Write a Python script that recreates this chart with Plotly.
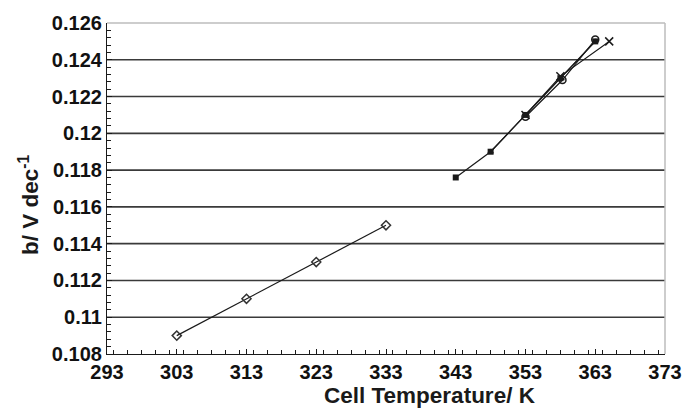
import plotly.graph_objects as go

# ---- data ----
low_T = [303, 313, 323, 333]
low_b = [0.109, 0.111, 0.113, 0.115]

sq_T = [343, 348, 353, 358, 363]
sq_b = [0.1176, 0.119, 0.121, 0.123, 0.125]

tri_T = [348, 353, 358, 363]
tri_b = [0.119, 0.121, 0.123, 0.125]

x_T = [353, 358, 365]
x_b = [0.121, 0.1231, 0.125]

circ_T = [353, 358.3, 363]
circ_b = [0.1209, 0.1229, 0.1251]

x_ticks = [293, 303, 313, 323, 333, 343, 353, 363, 373]
x_ticktext = ["293", "303", "313", "323", "333", "343", "353", "363", "373"]
y_ticks = [0.108, 0.110, 0.112, 0.114, 0.116, 0.118, 0.120, 0.122, 0.124, 0.126]
y_ticktext = ["0.108", "0.11", "0.112", "0.114", "0.116", "0.118", "0.12", "0.122", "0.124", "0.126"]

x_title = "Cell Temperature/ K"
y_title = "b/ V dec<sup>-1</sup>"

LINE = "#1a1a1a"

fig = go.Figure()

fig.add_trace(go.Scatter(x=low_T, y=low_b, mode="lines+markers",
                         line=dict(color=LINE, width=1.2),
                         marker=dict(symbol="diamond-open", size=7, color="#333333",
                                     line=dict(width=1.5))))
fig.add_trace(go.Scatter(x=tri_T, y=tri_b, mode="lines+markers",
                         line=dict(color=LINE, width=1.2),
                         marker=dict(symbol="triangle-up", size=6, color=LINE)))
fig.add_trace(go.Scatter(x=x_T, y=x_b, mode="lines+markers",
                         line=dict(color=LINE, width=1.2),
                         marker=dict(symbol="x-thin-open", size=8, color=LINE,
                                     line=dict(width=1.5, color=LINE))))
fig.add_trace(go.Scatter(x=circ_T, y=circ_b, mode="lines+markers",
                         line=dict(color=LINE, width=1.2),
                         marker=dict(symbol="circle-open", size=7, color=LINE,
                                     line=dict(width=1.5))))
fig.add_trace(go.Scatter(x=sq_T, y=sq_b, mode="lines+markers",
                         line=dict(color=LINE, width=1.2),
                         marker=dict(symbol="square", size=6, color=LINE)))

# gridlines at major y ticks (except top frame)
for yv in y_ticks[1:-1]:
    fig.add_shape(type="line", xref="paper", x0=0, x1=1, yref="y", y0=yv, y1=yv,
                  line=dict(color="#3a3a3a", width=1.6), layer="below")
# light gray top and right frame
fig.add_shape(type="line", xref="paper", x0=0, x1=1, yref="paper", y0=1, y1=1,
              line=dict(color="#bdbdbd", width=1.5))
fig.add_shape(type="line", xref="paper", x0=1, x1=1, yref="paper", y0=0, y1=1,
              line=dict(color="#bdbdbd", width=1.5))

font_family = "Arial, Liberation Sans, sans-serif"

fig.add_annotation(text="<b>%s</b>" % x_title, xref="paper", yref="paper",
                   x=0.579, y=-0.125, showarrow=False, xanchor="center", yanchor="middle",
                   font=dict(size=22.5, family=font_family, color="#1a1a1a"))
fig.add_annotation(text="<b>%s</b>" % y_title, xref="paper", yref="paper",
                   x=(29 - 107) / 558, y=0.45, showarrow=False, xanchor="center",
                   yanchor="middle", textangle=-90,
                   font=dict(size=22.5, family=font_family, color="#1a1a1a"))

fig.update_layout(
    width=695, height=414,
    margin=dict(l=107, r=30, t=16, b=60),
    plot_bgcolor="white", paper_bgcolor="white",
    showlegend=False,
    font=dict(family=font_family, color="#1a1a1a"),
    xaxis=dict(
        range=[293, 373], tickvals=x_ticks, ticktext=x_ticktext,
        showgrid=False, zeroline=False,
        showline=True, linecolor="#1a1a1a", linewidth=1.2,
        ticks="inside", ticklen=5, tickcolor="#1a1a1a",
        minor=dict(ticks="inside", dtick=2, ticklen=4, tickcolor="#1a1a1a", showgrid=False),
        tickfont=dict(size=20, family=font_family, color="#111111", weight="bold"),
    ),
    yaxis=dict(
        range=[0.108, 0.126], tickvals=y_ticks, ticktext=y_ticktext,
        showgrid=False, zeroline=False,
        showline=True, linecolor="#1a1a1a", linewidth=1.2,
        ticks="inside", ticklen=5, tickcolor="#1a1a1a",
        minor=dict(ticks="inside", dtick=0.0004, tick0=0.108, ticklen=4, tickcolor="#1a1a1a",
                   showgrid=False),
        tickfont=dict(size=20, family=font_family, color="#111111", weight="bold"),
    ),
)

fig.write_html("out.html")
